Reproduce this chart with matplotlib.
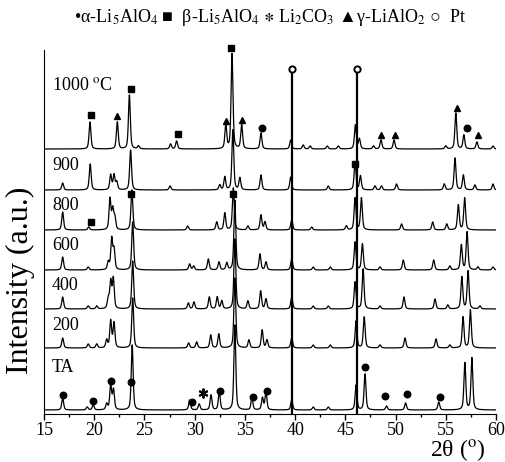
import numpy as np
import matplotlib
matplotlib.use("Agg")
import matplotlib.pyplot as plt
from matplotlib.ticker import MultipleLocator

plt.rcParams['font.family'] = ['Liberation Serif', 'DejaVu Serif']
plt.rcParams['mathtext.fontset'] = 'stix'

# peak positions (2theta) and heights (a.u.)
ta_pos = [16.86, 19.3, 19.9, 21.24, 21.64, 21.92, 23.78, 29.5, 30.45, 31.63, 32.45, 34.0,
          35.7, 36.75, 37.1, 39.66, 41.8, 43.3, 46.07, 46.96, 49.1, 51.0, 54.3, 56.9, 57.6]
ta_int = [12, 3, 5, 6, 25, 20, 65, 10, 6, 15, 18, 85,
          12, 12, 18, 10, 3, 3, 25, 36, 4, 7, 8, 47, 52]

t200_pos = [16.86, 19.4, 20.25, 21.24, 21.64, 21.97, 23.83, 29.4, 30.2, 31.6, 32.4, 34.0, 35.4,
            36.72, 37.2, 39.66, 41.8, 43.5, 46.07, 46.88, 48.45, 50.94, 54.03, 55.4, 56.72, 57.45]
t200_int = [10, 4, 4, 8, 27, 25, 50, 5, 6, 13, 14, 70, 8,
            18, 8, 10, 3, 3, 27, 31, 3, 10, 9, 3, 31, 38]

t400_pos = [16.86, 19.4, 20.25, 21.4, 21.64, 21.9, 23.83, 29.37, 29.93, 31.46, 32.25, 32.7, 34.0,
            35.3, 36.57, 37.1, 39.66, 41.8, 43.3, 45.97, 46.77, 48.45, 50.84, 53.93, 55.2, 56.6,
            57.22, 58.4]
t400_int = [12, 3, 3, 10, 27, 30, 48, 6, 7, 12, 12, 8, 70,
            8, 18, 10, 12, 3, 3, 27, 40, 3, 12, 10, 4, 32,
            38, 3]

t600_pos = [16.86, 19.4, 21.4, 21.74, 21.97, 23.83, 29.5, 29.9, 31.36, 32.42, 33.2, 34.0, 36.5,
            37.1, 39.66, 41.8, 43.5, 45.97, 46.7, 48.45, 50.77, 53.8, 55.4, 56.55, 57.12, 58.2, 59.7]
t600_int = [13, 3, 8, 31, 20, 48, 6, 4, 11, 8, 7, 70, 16,
            8, 11, 3, 3, 28, 26, 3, 10, 10, 4, 25, 38, 3, 3]

t800_pos = [16.86, 19.45, 21.57, 21.84, 22.05, 23.75, 29.3, 32.2, 33.0, 33.85, 35.3, 36.6, 37.0,
            39.66, 41.65, 45.1, 45.97, 46.6, 50.6, 53.7, 55.1, 56.25, 56.88]
t800_int = [18, 3, 31, 20, 12, 40, 4, 8, 17, 42, 4, 15, 8,
            10, 3, 4, 32, 32, 6, 8, 6, 25, 32]

t900_pos = [16.86, 19.6, 21.64, 21.97, 22.24, 23.62, 27.55, 32.5, 33.0, 33.8, 34.5, 36.6, 39.56,
            43.3, 45.97, 46.5, 47.95, 48.6, 50.1, 54.85, 55.92, 56.75, 57.9, 59.7]
t900_int = [7, 26, 15, 15, 8, 40, 4, 5, 13, 60, 12, 15, 13,
            4, 28, 14, 4, 4, 6, 6, 32, 15, 5, 6]

t1000_pos = [19.58, 22.3, 23.5, 24.4, 27.6, 28.2, 33.1, 33.72, 34.68, 36.6, 39.56, 40.8, 41.5,
             43.2, 44.3, 46.0, 46.4, 47.8, 48.55, 49.85, 55.0, 56.0, 56.8, 58.1, 59.7]
t1000_int = [27, 27, 54, 3, 5, 8, 24, 95, 24, 16, 9, 4, 3,
             3, 3, 24, 10, 3, 9, 9, 3, 36, 14, 7, 3]

labels = ['TA', '200', '400', '600', '800', '900', '1000 $^{\\mathrm{o}}$C']
offsets = [4, 66, 105, 144, 184, 224, 265]

# phase markers (2theta, y)
alpha_x = [16.9, 19.9, 21.7, 23.63, 29.7, 32.5, 35.8, 37.17, 46.96, 48.95, 51.1, 54.4, 36.67, 57.1]
alpha_y = [19, 13, 33, 32, 12, 23, 17, 23, 47, 18, 20, 17, 286, 286]
beta_x = [19.65, 23.66, 28.3, 33.6, 46.0, 19.65, 23.66, 33.85]
beta_y = [299, 325, 280, 366, 250, 192, 220, 220]
gamma_x = [22.3, 33.1, 34.7, 48.6, 49.9, 56.1, 58.2]
gamma_y = [298, 293, 294, 279, 279, 306, 279]
carb_x = [30.86]
carb_y = [21]
pt_x = [39.69, 46.13]
pt_y = [345, 345]

two_theta = np.linspace(15, 60, 4501)


def pattern(pos, inten, fwhm=0.22):
    y = np.zeros_like(two_theta)
    for p, h in zip(pos, inten):
        d = (two_theta - p) / (fwhm / 2)
        y += h * (0.5 * np.exp(-np.log(2) * d ** 2) + 0.5 / (1 + d ** 2))
    return y


fig = plt.figure(figsize=(5.06, 4.62), dpi=100)
ax = fig.add_axes([44 / 506, 48 / 462, 452 / 506, 364 / 462])

series = [(ta_pos, ta_int), (t200_pos, t200_int), (t400_pos, t400_int), (t600_pos, t600_int),
          (t800_pos, t800_int), (t900_pos, t900_int), (t1000_pos, t1000_int)]
for (pos, inten), off in zip(series, offsets):
    ax.plot(two_theta, pattern(pos, inten) + off, color='black', lw=0.9)

for x in pt_x:
    ax.plot([x, x], [0, 341], color='black', lw=1.6)

ms = 4.3
ax.plot(alpha_x, alpha_y, 'o', color='black', ms=ms + 0.4, clip_on=False)
ax.plot(beta_x, beta_y, 's', color='black', ms=ms, clip_on=False)
ax.plot(gamma_x, gamma_y, '^', color='black', ms=ms, clip_on=False)
ax.plot(carb_x, carb_y, marker=(6, 2, 0), color='black', ms=7, mew=1.4, ls='none')
ax.plot(pt_x, pt_y, 'o', mfc='white', mec='black', mew=1.4, ms=4.5, clip_on=False)

label_y = [47, 88, 129, 169, 209, 248, 328]
for lab, ly in zip(labels, label_y):
    ax.text(15.8, ly, lab, fontsize=13, va='center', ha='left')

ax.set_xlim(15, 60)
ax.set_ylim(0, 364)
ax.xaxis.set_major_locator(MultipleLocator(5))
ax.xaxis.set_minor_locator(MultipleLocator(2.5))
ax.tick_params(axis='x', which='major', direction='out', length=4, width=1, labelsize=13, pad=1.5)
ax.tick_params(axis='x', which='minor', direction='out', length=2.5, width=1)
ax.set_yticks([])
ax.spines['top'].set_visible(False)
ax.spines['right'].set_visible(False)

fig.text(20 / 506, 1 - 280 / 462, 'Intensity (a.u.)', rotation=90, fontsize=23,
         ha='center', va='center')
fig.text(458 / 506, 1 - 450 / 462, '2θ ($^{\\mathrm{o}}$)', fontsize=17, ha='center', va='center')

legend_txt = ('•α-Li$_5$AlO$_4$ ■  β-Li$_5$AlO$_4$ $\\mathbf{\\ast}$ Li$_2$CO$_3$ '
              '▲γ-LiAlO$_2$ ○  Pt')
fig.text(270 / 506, 1 - 17 / 462, legend_txt, fontsize=13, ha='center', va='center')

fig.savefig('out.png', dpi=100)
